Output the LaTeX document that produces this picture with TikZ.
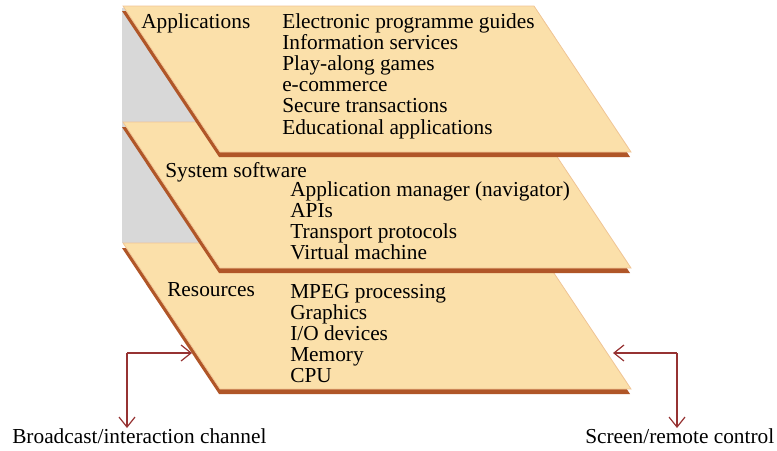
\documentclass[tikz,border=0pt]{standalone}
\usepackage{fontspec}
\setmainfont{Liberation Serif}
\usetikzlibrary{arrows.meta}

\definecolor{slabfill}{RGB}{251,224,170}
\definecolor{slabline}{RGB}{240,196,148}
\definecolor{slabside}{RGB}{176,86,40}
\definecolor{backgray}{RGB}{216,216,216}
\definecolor{sigred}{RGB}{150,50,50}

\tikzset{
  slab/.style={fill=slabfill, draw=slabline, line width=0.6pt},
  slabedge/.style={fill=slabside},
  lbl/.style={anchor=base west, inner sep=0pt, font=\fontsize{16}{16}\selectfont},
  sig/.style={draw=sigred, line width=0.9pt, -{Straight Barb[length=7.5pt,width=12pt]}},
}

\begin{document}
\begin{tikzpicture}[x=0.75pt,y=0.75pt,yscale=-1,xscale=1]
\useasboundingbox (0,0) rectangle (777,450);

%Shape: gray backing behind the layers
\fill[backgray] (122,8) rectangle (210,243);

%Shapes: the three layers, bottom one first
\foreach \t in {243,122,6}{
  \fill[slabedge] (122,\t+5) -- (533,\t+5) -- (630,\t+151) -- (219,\t+151) -- cycle;
  \path[slab] (123,\t) -- (534,\t) -- (631,\t+146) -- (220,\t+146) -- cycle;
}

% Text Node
\node[lbl] (apps) at (141,28) {Applications};
\foreach \s [count=\i] in {Electronic programme guides, Information services, Play-along games, e-commerce, Secure transactions, Educational applications}
  \node[lbl] (app\i) at (282,28+21.2*\i-21.2) {\s};

% Text Node
\node[lbl] (syssw) at (165,177) {System software};
\foreach \s [count=\i] in {Application manager (navigator), APIs, Transport protocols, Virtual machine}
  \node[lbl] (sw\i) at (290,196+21*\i-21) {\s};

% Text Node
\node[lbl] (res) at (167,296) {Resources};
\foreach \s [count=\i] in {MPEG processing, Graphics, I/O devices, Memory, CPU}
  \node[lbl] (res\i) at (290,298+21*\i-21) {\s};

% Text Node
\node[lbl] (bcast) at (12,443) {Broadcast/interaction channel};
\node[lbl] (screen) at (585,443) {Screen/remote control};

%Straight Lines: arrows to the outside
\coordinate (bcast-knee) at (127,353);
\coordinate (bcast-in) at (192,353);
\coordinate (bcast-out) at (127,428);
\draw[sig] (bcast-knee) -- (bcast-in);
\draw[sig] (bcast-knee) -- (bcast-out);

\coordinate (screen-knee) at (677,353);
\coordinate (screen-in) at (613,353);
\coordinate (screen-out) at (677,428);
\draw[sig] (screen-knee) -- (screen-in);
\draw[sig] (screen-knee) -- (screen-out);

\end{tikzpicture}
\end{document}
